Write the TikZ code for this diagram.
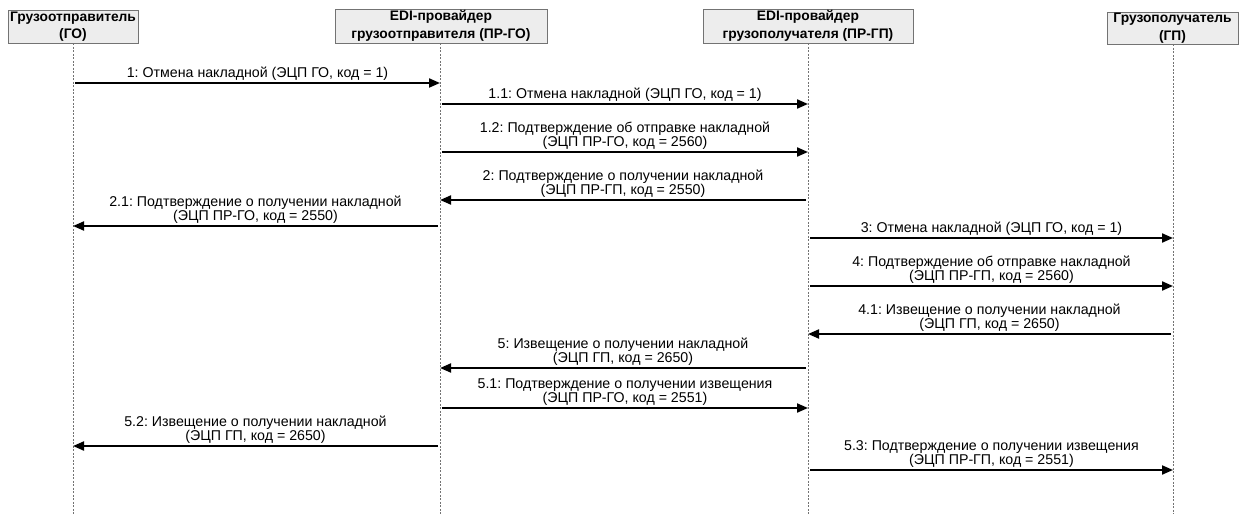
\documentclass[tikz,border=0pt]{standalone}
\usepackage{fontspec}
\setmainfont{Liberation Sans}
\usetikzlibrary{arrows.meta}
\frenchspacing
\begin{document}
\begin{tikzpicture}[x=1pt,y=-1pt,
  hdr/.style={draw=black!55, fill=black!7, line width=0.9pt, font=\bfseries\fontsize{13.8}{17.5}\selectfont, align=center, inner sep=0pt},
  life/.style={black!55, dash pattern=on 2pt off 1.5pt, line width=0.8pt},
  msgline/.style={line width=2pt, -{Triangle[length=11pt,width=9pt]}},
  lbl/.style={font=\fontsize{14.2}{14.5}\selectfont, align=center, inner sep=1.5pt, anchor=south}]
\useasboundingbox (0,0) rectangle (1244,516);
\fill[white] (0,0) rectangle (1244,516);
% headers
\node[hdr, minimum width=130pt, minimum height=33pt] (hA) at (73,26.5) {Грузоотправитель\\(ГО)};
\node[hdr, minimum width=212pt, minimum height=34pt] (hB) at (441,26) {EDI-провайдер\\грузоотправителя (ПР-ГО)};
\node[hdr, minimum width=210pt, minimum height=34pt] (hC) at (808,26) {EDI-провайдер\\грузополучателя (ПР-ГП)};
\node[hdr, minimum width=131pt, minimum height=32pt] (hD) at (1172.5,28) {Грузополучатель\\(ГП)};
% lifelines
\coordinate (eA) at (73,514);
\coordinate (eB) at (440,514);
\coordinate (eC) at (808,514);
\coordinate (eD) at (1173,514);
\draw[life] (hA.south -| eA) -- (eA);
\draw[life] (hB.south -| eB) -- (eB);
\draw[life] (hC.south -| eC) -- (eC);
\draw[life] (hD.south -| eD) -- (eD);
% message end points
\coordinate (m1s) at (75,83);    \coordinate (m1e) at (440,83);
\coordinate (m11s) at (442,104); \coordinate (m11e) at (808,104);
\coordinate (m12s) at (442,152); \coordinate (m12e) at (808,152);
\coordinate (m2s) at (806,200);  \coordinate (m2e) at (440,200);
\coordinate (m21s) at (438,226); \coordinate (m21e) at (73,226);
\coordinate (m3s) at (810,238);  \coordinate (m3e) at (1173,238);
\coordinate (m4s) at (810,286);  \coordinate (m4e) at (1173,286);
\coordinate (m41s) at (1171,334);\coordinate (m41e) at (808,334);
\coordinate (m5s) at (806,368);  \coordinate (m5e) at (440,368);
\coordinate (m51s) at (442,408); \coordinate (m51e) at (808,408);
\coordinate (m52s) at (438,446); \coordinate (m52e) at (73,446);
\coordinate (m53s) at (810,470); \coordinate (m53e) at (1173,470);
% messages
\draw[msgline] (m1s) -- node[lbl]{1: Отмена накладной (ЭЦП ГО, код = 1)} (m1e);
\draw[msgline] (m11s) -- node[lbl]{1.1: Отмена накладной (ЭЦП ГО, код = 1)} (m11e);
\draw[msgline] (m12s) -- node[lbl]{1.2: Подтверждение об отправке накладной\\(ЭЦП ПР-ГО, код = 2560)} (m12e);
\draw[msgline] (m2s) -- node[lbl]{2: Подтверждение о получении накладной\\(ЭЦП ПР-ГП, код = 2550)} (m2e);
\draw[msgline] (m21s) -- node[lbl]{2.1: Подтверждение о получении накладной\\(ЭЦП ПР-ГО, код = 2550)} (m21e);
\draw[msgline] (m3s) -- node[lbl]{3: Отмена накладной (ЭЦП ГО, код = 1)} (m3e);
\draw[msgline] (m4s) -- node[lbl]{4: Подтверждение об отправке накладной\\(ЭЦП ПР-ГП, код = 2560)} (m4e);
\draw[msgline] (m41s) -- node[lbl]{4.1: Извещение о получении накладной\\(ЭЦП ГП, код = 2650)} (m41e);
\draw[msgline] (m5s) -- node[lbl]{5: Извещение о получении накладной\\(ЭЦП ГП, код = 2650)} (m5e);
\draw[msgline] (m51s) -- node[lbl]{5.1: Подтверждение о получении извещения\\(ЭЦП ПР-ГО, код = 2551)} (m51e);
\draw[msgline] (m52s) -- node[lbl]{5.2: Извещение о получении накладной\\(ЭЦП ГП, код = 2650)} (m52e);
\draw[msgline] (m53s) -- node[lbl]{5.3: Подтверждение о получении извещения\\(ЭЦП ПР-ГП, код = 2551)} (m53e);
\end{tikzpicture}
\end{document}
